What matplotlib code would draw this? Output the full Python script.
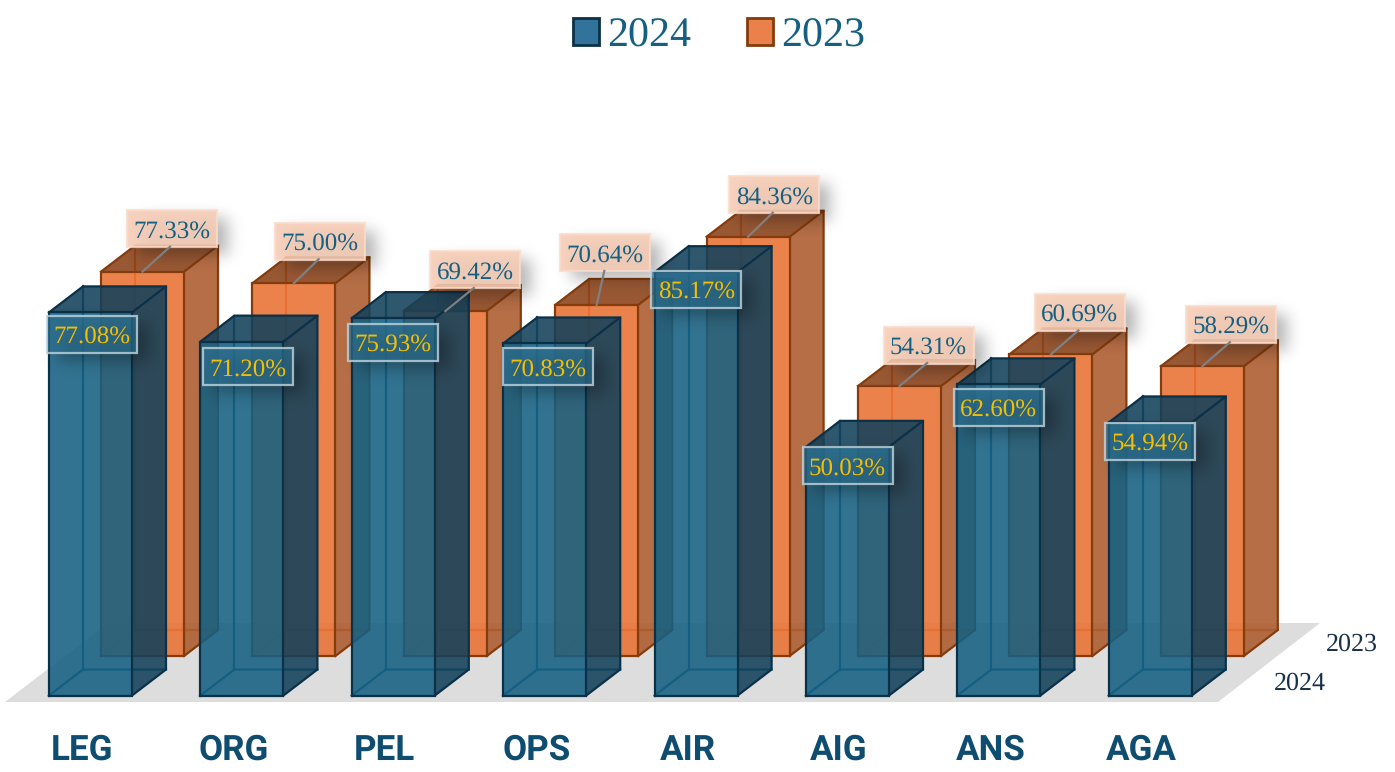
import math
import numpy as np
import matplotlib
matplotlib.use('Agg')
import matplotlib.pyplot as plt
from matplotlib.patches import Polygon, Rectangle, Patch
from matplotlib.transforms import IdentityTransform

plt.rcParams['text.hinting'] = 'no_hinting'
plt.rcParams['text.hinting_factor'] = 1

# Chart data
categories = ['LEG', 'ORG', 'PEL', 'OPS', 'AIR', 'AIG', 'ANS', 'AGA']
values_2024 = [77.08, 71.20, 75.93, 70.83, 85.17, 50.03, 62.60, 54.94]
values_2023 = [77.33, 75.00, 69.42, 70.64, 84.36, 54.31, 60.69, 58.29]

# Label offsets from the top of each front face, in pixels
label_off_2024 = [(1, -22), (6, -25), (0, -24), (3, -23), (0, -17), (0, -19), (0, -23), (0, -19)]
label_off_2023 = [(29, 43), (26, 42), (30, 41), (8, 52), (26, 42), (29, 41), (29, 42), (29, 42)]

# Pixel scale of the chart
W, H = 1395, 772
PX_X = 151.4    # pixels per category
PX_Y = 4.97     # pixels per percent
LEFT = 49       # left edge of first front bar
BASE = 695.5    # pixel row of zero

BAR_W = 83 / PX_X
DEPTH_X = 34 / PX_X
DEPTH_Y = 26 / PX_Y
SHIFT_X = 52 / PX_X     # 2023 row sits behind and to the right
SHIFT_Y = 39.5 / PX_Y

BLUE = '#156082'
ORANGE = '#E97132'
TEXT_BLUE = '#156082'
GOLD = '#F5BE00'
SERIF = 'Liberation Serif'

fig = plt.figure(figsize=(W / 100, H / 100), dpi=100)
ax = fig.add_axes([0, 0, 1, 1])
xlim = (-LEFT / PX_X, (W - LEFT) / PX_X)
ylim = (-(H - BASE) / PX_Y, BASE / PX_Y)
ax.set_xlim(xlim)
ax.set_ylim(ylim)
ax.axis('off')


def px(x, y):
    # picture pixel to data units
    return (x - LEFT) / PX_X, (BASE - y) / PX_Y


# Floor
ax.add_patch(Polygon([px(5, 702), px(1218, 702), px(1320, 623), px(108, 623)],
                     closed=True, fc='#dddddd', ec='none', zorder=1))


def draw_bar(x, y0, value, front, side, top, edge, inner, z):
    x1 = x + BAR_W
    y1 = y0 + value
    dx, dy = DEPTH_X, DEPTH_Y
    alpha = 0.88
    # back and hidden edges first, they show through the front
    ax.plot([x + dx, x + dx], [y0 + dy, y1 + dy], color=inner, lw=1.6, zorder=z)
    ax.plot([x, x + dx, x1 + dx], [y0, y0 + dy, y0 + dy], color=inner, lw=1.6, zorder=z)
    ax.add_patch(Polygon([(x, y0), (x1, y0), (x1, y1), (x, y1)], closed=True,
                         fc=front, ec='none', alpha=alpha, zorder=z))
    ax.add_patch(Polygon([(x1, y0), (x1 + dx, y0 + dy), (x1 + dx, y1 + dy), (x1, y1)], closed=True,
                         fc=side, ec='none', alpha=alpha, zorder=z))
    ax.add_patch(Polygon([(x, y1), (x1, y1), (x1 + dx, y1 + dy), (x + dx, y1 + dy)], closed=True,
                         fc=top, ec='none', alpha=alpha, zorder=z))
    # visible edges
    for seg in ([(x, y0), (x1, y0), (x1, y1), (x, y1), (x, y0)],
                [(x1, y0), (x1 + dx, y0 + dy), (x1 + dx, y1 + dy), (x1, y1)],
                [(x, y1), (x + dx, y1 + dy), (x1 + dx, y1 + dy)]):
        ax.plot(*zip(*seg), color=edge, lw=1.6, zorder=z + 0.01, solid_joinstyle='miter')


erf = np.vectorize(math.erf)


def soft_shadow(cx, cy, bw, bh, sigma=8, strength=0.3):
    # blurred rectangle as an RGBA image, in display pixels
    m = 24
    xs = np.arange(-bw / 2 - m, bw / 2 + m + 1)
    ys = np.arange(-bh / 2 - m, bh / 2 + m + 1)
    sx = 0.5 * (erf((xs + bw / 2) / (sigma * 1.41)) - erf((xs - bw / 2) / (sigma * 1.41)))
    sy = 0.5 * (erf((ys + bh / 2) / (sigma * 1.41)) - erf((ys - bh / 2) / (sigma * 1.41)))
    img = np.zeros((len(ys), len(xs), 4))
    img[..., 3] = strength * np.outer(sy, sx)
    ax.imshow(img, origin='lower', aspect='auto', interpolation='bilinear',
              extent=(cx + xs[0], cx + xs[-1], cy + ys[0], cy + ys[-1]),
              transform=IdentityTransform(), zorder=50)


def draw_label(cx, cy, text, face, face_alpha, border, color):
    # cx, cy are display pixels, y going up
    bw, bh = 90, 37
    tr = IdentityTransform()
    soft_shadow(cx + 11, cy - 8, bw, bh)
    ax.add_patch(Rectangle((cx - bw / 2, cy - bh / 2), bw, bh, fc=face, ec='none',
                           alpha=face_alpha, transform=tr, zorder=51))
    ax.add_patch(Rectangle((cx - bw / 2, cy - bh / 2), bw, bh, fc='none', ec=border,
                           lw=1.6, alpha=0.8, transform=tr, zorder=52))
    ax.text(cx, cy, text, transform=tr, ha='center', va='center_baseline', fontsize=17.8,
            family=SERIF, color=color, zorder=53)


# 2023 row goes behind
for i, v in enumerate(values_2023):
    draw_bar(i + SHIFT_X, SHIFT_Y, v, ORANGE, '#ab5a2c', '#8a4118', '#843C0C', '#d9652b', 2 + i * 0.1)

# 2024 row in front
for i, v in enumerate(values_2024):
    draw_bar(i, 0, v, BLUE, '#12405a', '#12405a', '#0b3148', '#125a7c', 10 + i * 0.1)

# 2023 labels with leader lines
for i, v in enumerate(values_2023):
    ox, oy = label_off_2023[i]
    xc = i + SHIFT_X + BAR_W / 2
    yc = SHIFT_Y + v
    ax_x, ax_y = ax.transData.transform((xc, yc))
    draw_label(ax_x + ox, ax_y + oy, f'{v:.2f}%', '#f6cdb6', 0.88, '#fbdccb', TEXT_BLUE)
    ax.plot([ax_x, ax_x + ox * 0.95], [ax_y, ax_y + oy - 18], color='#808080', lw=1.6,
            transform=IdentityTransform(), zorder=54)

# 2024 labels
for i, v in enumerate(values_2024):
    ox, oy = label_off_2024[i]
    ax_x, ax_y = ax.transData.transform((i + BAR_W / 2, v))
    draw_label(ax_x + ox, ax_y + oy, f'{v:.2f}%', '#2c6e8e', 0.7, '#c3d6df', GOLD)

# Category labels
for i, c in enumerate(categories):
    x, y = px(LEFT + PX_X * i + 33, 760)
    ax.text(x, y, c, ha='center', va='baseline', fontsize=25, family='Roboto',
            fontweight='bold', color='#0f4d70')

# Depth axis labels
x, y = px(1300, 683)
ax.text(x, y, '2024', ha='center', va='center', fontsize=19, family=SERIF, color='#1a2f4b')
x, y = px(1352, 644)
ax.text(x, y, '2023', ha='center', va='center', fontsize=19, family=SERIF, color='#1a2f4b')

# Legend
handles = [Patch(fc='#31739a', ec='#0b3148', lw=2, label='2024'),
           Patch(fc='#eb814a', ec='#843C0C', lw=2, label='2023')]
ax.legend(handles=handles, ncols=2, loc='center', bbox_to_anchor=(719 / W, 1 - 36.5 / H),
          frameon=False, handlelength=0.62, handleheight=0.62, handletextpad=0.2,
          columnspacing=1.3, borderpad=0,
          prop={'family': SERIF, 'size': 30.5}, labelcolor=TEXT_BLUE)

ax.set_xlim(xlim)
ax.set_ylim(ylim)

fig.savefig('out.png', dpi=100, facecolor='white')
